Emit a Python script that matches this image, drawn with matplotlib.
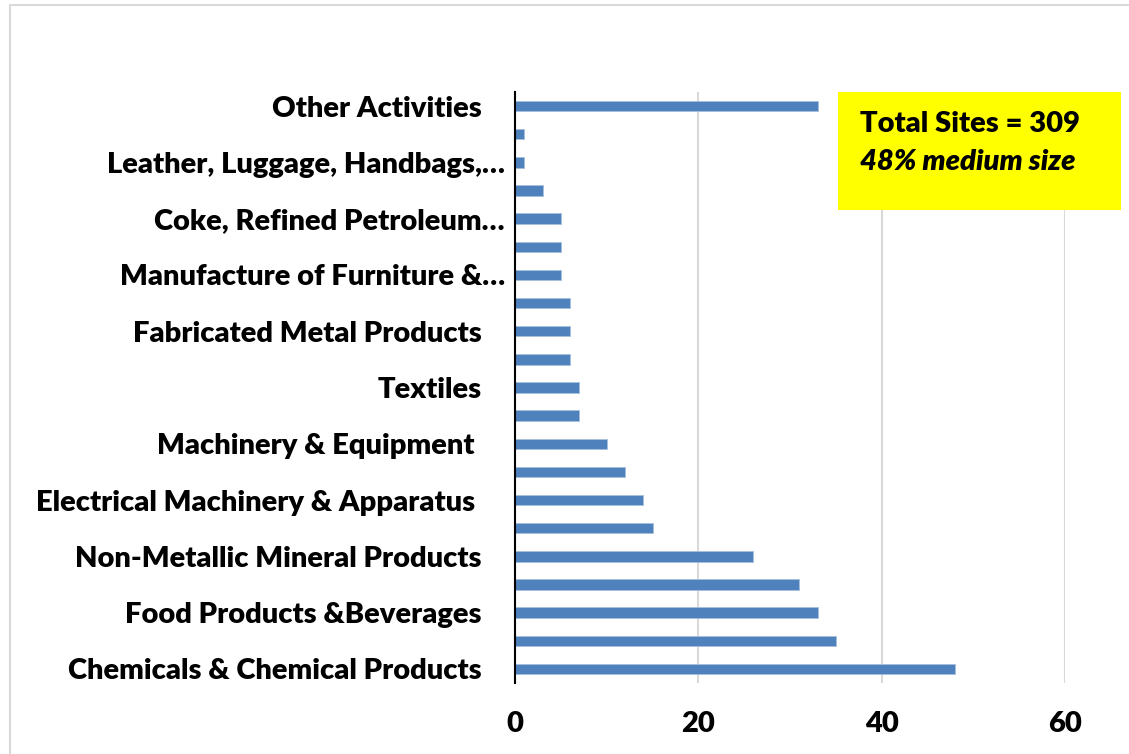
import matplotlib
matplotlib.use("Agg")
import matplotlib.pyplot as plt
import matplotlib.transforms as mtransforms
from matplotlib.patches import Rectangle

# Data (bottom to top)
values = [48, 35, 33, 31, 26, 15, 14, 12, 10, 7, 7, 6, 6, 6, 5, 5, 5, 3, 1, 1, 33]
# Excel only shows every other category label (bottom to top)
labels = [
    "Chemicals & Chemical Products",
    "Food Products &Beverages",
    "Non-Metallic Mineral Products",
    "Electrical Machinery & Apparatus ",
    "Machinery & Equipment ",
    "Textiles",
    "Fabricated Metal Products",
    "Manufacture of Furniture &…",
    "Coke, Refined Petroleum…",
    "Leather, Luggage, Handbags,…",
    "Other Activities",
]
xticks = [0, 20, 40, 60]
note_line1 = "Total Sites = 309"
note_line2 = "48% medium size"

FONT = "Lato"
WEIGHT = "heavy"
FS = 21
W, H = 1129, 754
fig = plt.figure(figsize=(W / 100, H / 100), dpi=100)
fig.patch.set_facecolor("white")

# outer chart border
fig.add_artist(Rectangle((10 / W, -0.05), 1.2, 1.05 - 5 / H, transform=fig.transFigure,
                         fill=False, edgecolor="#D9D9D9", linewidth=1.5))

ax = fig.add_axes([515 / W, 1 - 683 / H, (1065 - 515) / W, (683 - 92) / H])
pos = list(range(len(values)))
ax.barh(pos, values, height=0.37, color="#4F81BD", edgecolor="#A7BFDE", linewidth=0.6, zorder=3)
ax.set_ylim(-0.5, len(values) - 0.5)
ax.set_xlim(0, 60)
ax.set_xticks(xticks)
ax.set_xticklabels([str(t) for t in xticks], fontsize=FS, fontweight=WEIGHT, family=FONT)
ax.tick_params(axis="x", length=0, pad=20)
ax.set_yticks(pos[::2])
ax.set_yticklabels(labels, fontsize=FS, fontweight=WEIGHT, family=FONT)
ax.tick_params(axis="y", length=0, pad=24)
ax.xaxis.grid(True, color="#D9D9D9", linewidth=1.5, zorder=0)
ax.set_axisbelow(True)
for s in ["top", "right", "bottom"]:
    ax.spines[s].set_visible(False)
ax.spines["left"].set_color("black")
ax.spines["left"].set_linewidth(1.5)
ax.spines["left"].set_zorder(4)

# truncated labels sit closer to the axis
for tl in ax.get_yticklabels():
    if tl.get_text().endswith("…"):
        tl.set_transform(tl.get_transform() + mtransforms.ScaledTranslation(23 / 100, 0, fig.dpi_scale_trans))

# yellow annotation box
fig.add_artist(Rectangle((838 / W, 1 - 210 / H), (1121 - 838) / W, (210 - 92) / H,
                         transform=fig.transFigure, facecolor="#FFFF00", edgecolor="none", zorder=5))
fig.text(860 / W, 1 - 124 / H, note_line1, fontsize=FS, fontweight=WEIGHT, family=FONT,
         va="center", ha="left", zorder=6)
fig.text(860 / W, 1 - 162 / H, note_line2, fontsize=FS, fontweight=WEIGHT, style="italic",
         family=FONT, va="center", ha="left", zorder=6)

fig.savefig("out.png", dpi=100)
